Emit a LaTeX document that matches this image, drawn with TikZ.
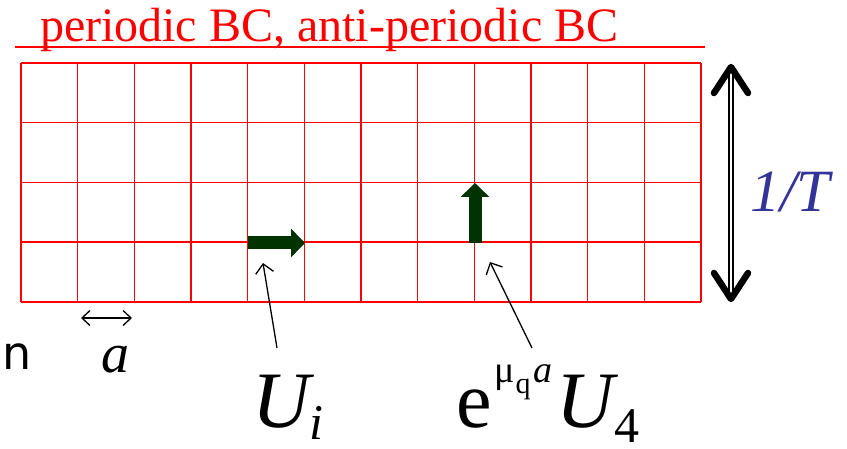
\documentclass[tikz,border=0pt]{standalone}
\usepackage{fontspec}
\setmainfont{Liberation Serif}
\usetikzlibrary{arrows.meta}
\definecolor{cRed}{HTML}{FF0000}
\definecolor{cLink}{HTML}{003300}
\definecolor{cNavy}{HTML}{333399}

\newcommand{\fsz}[1]{\fontsize{#1}{#1}\selectfont}

\begin{document}
\begin{tikzpicture}[
    x=1pt, y=-1pt,
    % --- Lattice styles ---
    gridline/.style={draw=cRed, line width=1.5pt},
    bcline/.style={draw=cRed, line width=2pt},
    % --- Link arrows (fat green) ---
    link/.style={draw=cLink, line width=13pt,
        -{Triangle[length=14pt, width=28pt, fill=cLink]}},
    % --- Thin pointer arrows ---
    ptr/.style={draw=black, line width=1.3pt,
        -{Straight Barb[length=9pt, width=18pt, line width=1.3pt]}},
    % --- Labels ---
    lbl/.style={anchor=base west, inner sep=0pt, outer sep=0pt},
]

\useasboundingbox (0,0) rectangle (847,449);

% =============================================
% TOP: boundary condition label
% =============================================

\node[lbl, text=cRed] (bclabel) at (40,42) {\fsz{48}periodic BC, anti-periodic BC};
\coordinate (bcl) at (15,47);
\coordinate (bcr) at (705,47);
\draw[bcline] (bcl) -- (bcr);

% =============================================
% LATTICE (12 x 4)
% =============================================

\foreach \i in {0,...,12} {
    \draw[gridline] ({21+\i*56.67},63) -- ({21+\i*56.67},302);
}
\foreach \j in {0,...,4} {
    \draw[gridline] (21,{63+\j*59.75}) -- (701,{63+\j*59.75});
}

% =============================================
% LINK VARIABLES
% =============================================

\coordinate (ui0) at (248,243);
\coordinate (ui1) at (305,243);
\draw[link] (ui0) -- (ui1);

\coordinate (u40) at (475,243);
\coordinate (u41) at (475,183);
\draw[link] (u40) -- (u41);

% =============================================
% 1/T extent arrow
% =============================================

\coordinate (ttop) at (731,72);
\coordinate (tbot) at (731,295);
\draw[line width=1.6pt, double=white, double distance=2.4pt] (ttop) -- (tbot);
\draw[line width=6.5pt, line cap=round, line join=round] (714,93) -- (731,67) -- (748,93);
\draw[line width=6.5pt, line cap=round, line join=round] (714,273) -- (731,299) -- (748,273);
\node[lbl, text=cNavy] (invT) at (750,212) {\fsz{60}\itshape 1/T};

% =============================================
% LATTICE SPACING
% =============================================

\coordinate (al) at (81,318);
\coordinate (ar) at (132,318);
\draw[line width=1.3pt,
    {Straight Barb[length=8pt, width=15pt, line width=1.3pt]}-{Straight Barb[length=8pt, width=15pt, line width=1.3pt]}]
    (al) -- (ar);
\node[lbl] (alabel) at (101,373) {\fsz{56}\itshape a};

% =============================================
% POINTERS AND LINK LABELS
% =============================================

\node[lbl] (Ui) at (252,428) {\fsz{80}\itshape U\raisebox{-12pt}{\fsz{50}i}};

% mu set on its own
\node[lbl] (eU4) at (456,428) {\fsz{80}e\hspace{24pt}\raisebox{35pt}{\fsz{30}q}\hspace{3pt}\raisebox{46pt}{\fsz{38}\itshape a}\hspace{4pt}{\itshape U}\raisebox{-15pt}{\fsz{50}4}};
\node[lbl] (mu) at (494,383) {\fsz{38}μ};

\coordinate (uip) at (277,348);
\coordinate (uit) at (263,263);
\draw[ptr] (uip) -- (uit);

\coordinate (u4p) at (532,348);
\coordinate (u4t) at (490,262);
\draw[ptr] (u4p) -- (u4t);

% stray letter at the left edge
\node[lbl] (nlabel) at (2,370) {\fontspec{DejaVu Sans}\fsz{46}n};

\end{tikzpicture}
\end{document}
